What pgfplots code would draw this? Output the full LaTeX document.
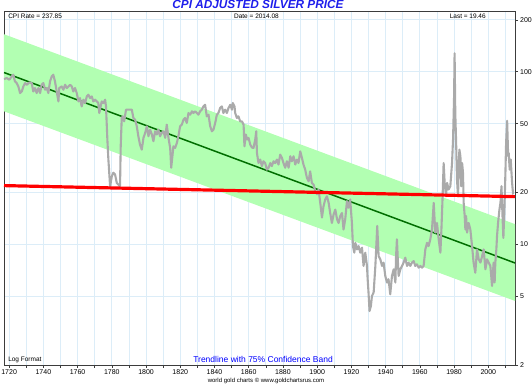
\documentclass[border=0pt]{standalone}
\usepackage{pgfplots}
\pgfplotsset{compat=1.18}
\usepackage{fontspec}
\setmainfont{Liberation Sans}
\definecolor{titleblue}{RGB}{30,30,235}
\definecolor{bandgreen}{RGB}{178,255,178}
\definecolor{trendgreen}{RGB}{0,110,0}
\definecolor{silvergrey}{RGB}{170,170,170}
\definecolor{gridblue}{RGB}{220,237,248}
\definecolor{frame}{RGB}{60,60,60}
\begin{document}
\begin{tikzpicture}
\begin{axis}[
  scale only axis, width=511pt, height=354pt,
  xmin=1717, xmax=2015.6, ymode=log, ymin=2, ymax=225,
  axis line style={frame, line width=0.8pt},
  xtick={1720,1740,...,2000}, minor xtick={1730,1750,...,2010},
  ytick={2,5,10,20,50,100,200}, yticklabels={2,5,10,20,50,100,200},
  minor ytick={},
  xtick pos=bottom, ytick pos=right, yticklabel pos=right,
  tick align=outside, major tick length=3pt, minor tick length=3pt,
  tick style={frame, line width=0.6pt},
  grid=both, major grid style={gridblue, line width=0.8pt}, minor grid style={gridblue, line width=0.8pt},
  ticklabel style={font=\fontsize{7}{8}\selectfont, inner sep=1pt},
  xticklabel style={yshift=-0.5pt},
  yticklabel style={xshift=1pt},
  /pgf/number format/assume math mode=true,
  xticklabel={\pgfmathprintnumber[1000 sep=]{\tick}},
  clip=true,
]
% confidence band
\addplot[fill=bandgreen, draw=none] coordinates {(1717,165) (2015.6,13.1) (2015.6,4.7) (1717,59)} -- cycle;
% trendline
\addplot[trendgreen, line width=1.5pt] coordinates {(1717,99) (2015.6,7.8)};
% silver price
\addplot[silvergrey, line width=2.1pt, line join=round] coordinates {
(1717.0,90.7)(1718.6,92.0)(1720.1,89.9)(1721.5,94.0)(1722.4,96.1)(1723.4,87.9)(1724.4,86.0)(1725.4,82.2)(1726.4,75.3)(1727.4,76.9)(1728.3,82.2)(1729.3,86.0)(1730.3,84.1)(1731.8,86.7)(1733.2,86.0)(1734.1,76.9)(1735.1,80.5)(1736.1,75.3)(1737.1,80.5)(1738.1,75.3)(1739.0,84.1)(1740.0,86.0)(1741.0,78.7)(1742.0,80.5)(1742.9,75.3)(1743.9,87.9)(1744.9,94.0)(1745.8,96.1)(1746.8,87.9)(1747.8,76.9)(1748.8,67.3)(1749.3,80.5)(1750.7,82.2)(1751.7,78.7)(1752.7,84.1)(1753.7,80.5)(1754.6,82.2)(1755.6,84.1)(1756.6,82.2)(1757.5,76.9)(1758.5,80.5)(1759.5,75.3)(1760.5,67.3)(1761.4,70.4)(1762.4,63.0)(1763.4,68.9)(1764.4,65.9)(1765.4,72.0)(1766.3,73.6)(1767.3,70.4)(1768.3,72.0)(1769.2,67.3)(1770.2,68.9)(1771.2,67.3)(1772.1,65.9)(1772.7,57.7)(1774.1,67.3)(1775.1,65.9)(1776.1,68.9)(1776.6,63.0)(1777.4,40.5)(1778.0,31.0)(1779.0,21.7)(1780.0,24.8)(1780.9,26.0)(1781.9,25.4)(1782.9,22.7)(1783.8,22.2)(1784.8,21.7)(1785.2,37.0)(1785.8,54.0)(1786.4,55.2)(1787.2,51.6)(1788.3,60.3)(1789.7,60.3)(1791.7,60.3)(1792.6,54.0)(1793.6,52.8)(1794.6,48.3)(1795.5,42.3)(1796.5,37.8)(1797.5,35.4)(1798.5,41.4)(1799.5,44.3)(1800.5,48.3)(1801.4,42.3)(1802.4,46.2)(1803.4,43.3)(1804.3,39.6)(1805.3,45.2)(1806.3,43.3)(1807.2,46.2)(1808.2,42.3)(1809.2,44.3)(1810.2,45.2)(1811.2,41.4)(1812.1,49.4)(1813.1,41.4)(1814.1,36.2)(1814.7,27.8)(1815.4,32.4)(1816.0,37.0)(1817.0,36.2)(1818.0,38.7)(1818.9,42.3)(1819.9,48.3)(1820.9,49.4)(1821.9,52.8)(1822.8,54.0)(1823.8,50.5)(1824.8,57.7)(1825.8,56.4)(1826.8,59.0)(1827.7,57.7)(1828.7,59.0)(1829.7,57.7)(1830.6,56.4)(1831.6,59.0)(1832.6,60.3)(1833.5,63.0)(1834.5,64.4)(1835.5,55.2)(1836.5,56.4)(1837.5,48.3)(1838.5,45.2)(1839.4,46.2)(1840.4,50.5)(1841.4,56.4)(1842.3,57.7)(1843.3,61.7)(1844.3,63.0)(1845.2,57.7)(1846.2,60.3)(1847.2,57.7)(1848.2,61.7)(1849.2,64.4)(1850.2,60.3)(1850.7,65.9)(1851.7,63.0)(1852.1,57.7)(1853.1,54.0)(1854.0,55.2)(1855.0,51.6)(1856.0,51.6)(1857.0,49.4)(1857.5,37.0)(1858.3,43.3)(1859.1,40.5)(1859.9,41.4)(1860.9,37.8)(1861.9,36.4)(1862.8,36.2)(1863.8,40.5)(1864.4,45.2)(1864.8,33.9)(1865.7,29.6)(1866.7,31.0)(1867.7,28.4)(1868.6,30.3)(1869.6,29.6)(1870.6,27.1)(1871.6,27.8)(1872.6,29.6)(1873.5,28.4)(1874.5,30.3)(1875.5,29.6)(1876.5,31.0)(1877.4,29.0)(1878.4,33.1)(1879.4,31.7)(1880.3,29.6)(1881.3,27.8)(1882.3,30.3)(1883.3,27.8)(1884.3,32.4)(1885.2,30.3)(1886.2,32.4)(1887.2,29.0)(1888.2,31.0)(1889.1,29.6)(1890.1,34.6)(1891.1,31.7)(1892.0,29.0)(1893.0,27.1)(1894.0,24.3)(1895.0,23.2)(1895.9,26.5)(1896.9,22.7)(1897.9,22.2)(1898.9,20.3)(1899.9,19.5)(1900.8,20.8)(1901.8,17.4)(1902.8,14.3)(1903.7,16.6)(1904.7,18.2)(1905.7,19.0)(1906.7,17.4)(1907.6,15.2)(1908.6,13.3)(1909.6,14.9)(1910.6,15.9)(1911.6,14.0)(1912.5,13.3)(1913.5,14.6)(1914.5,15.2)(1915.4,12.2)(1916.4,14.0)(1917.4,17.8)(1918.4,16.3)(1919.3,18.2)(1920.3,13.3)(1920.9,9.77)(1921.7,8.95)(1922.3,10.2)(1923.3,9.35)(1924.2,9.77)(1925.2,8.95)(1926.2,9.57)(1927.1,7.50)(1928.1,8.95)(1929.1,7.50)(1929.5,6.28)(1930.0,5.26)(1930.6,4.11)(1931.4,4.40)(1932.0,5.02)(1933.0,5.26)(1934.0,7.50)(1935.1,12.8)(1935.9,8.55)(1936.9,8.19)(1937.9,7.50)(1938.8,7.84)(1939.8,6.56)(1940.8,6.01)(1941.7,6.28)(1942.7,5.14)(1943.7,6.56)(1944.7,7.17)(1945.7,6.01)(1946.1,8.55)(1946.6,10.7)(1947.2,7.84)(1947.6,6.56)(1948.6,7.17)(1949.6,7.50)(1950.5,7.84)(1951.5,8.37)(1952.5,7.50)(1953.4,7.84)(1954.4,7.50)(1955.4,7.84)(1956.4,8.00)(1957.3,7.50)(1958.3,7.66)(1959.3,7.33)(1960.3,7.50)(1961.3,7.33)(1962.2,7.50)(1963.2,9.35)(1964.2,10.2)(1965.1,9.77)(1966.1,10.7)(1967.1,12.2)(1968.1,17.4)(1969.0,11.7)(1970.0,13.3)(1971.0,10.7)(1972.0,8.95)(1972.6,12.2)(1973.3,19.0)(1973.9,29.6)(1974.5,22.7)(1975.3,19.0)(1975.9,22.7)(1976.8,20.8)(1977.8,21.7)(1978.8,29.6)(1979.4,40.5)(1980.0,72.0)(1980.3,128)(1980.7,57.7)(1981.2,38.7)(1981.7,23.8)(1982.3,19.0)(1982.7,27.1)(1983.1,35.4)(1983.7,32.4)(1984.2,21.7)(1984.7,29.6)(1985.2,26.0)(1985.6,17.4)(1986.2,14.6)(1986.6,12.2)(1987.0,14.6)(1987.6,11.7)(1988.5,13.3)(1989.5,12.2)(1990.5,9.77)(1991.4,7.84)(1992.4,6.85)(1993.4,9.35)(1994.4,8.19)(1995.4,7.84)(1996.4,8.55)(1997.3,9.35)(1998.3,7.17)(1999.3,8.19)(2000.2,7.84)(2001.2,7.50)(2002.2,5.74)(2003.1,7.84)(2003.7,6.01)(2004.1,7.84)(2004.7,9.35)(2005.1,11.2)(2005.7,13.3)(2006.5,15.9)(2007.1,17.4)(2007.7,21.7)(2008.3,14.6)(2008.8,10.9)(2009.4,15.9)(2010.0,26.0)(2010.4,38.7)(2011.0,52.0)(2011.6,32.4)(2011.9,33.9)(2012.5,27.1)(2013.1,31.0)(2013.9,22.7)(2014.5,19.46)
};
% flat trend (red)
\addplot[red, line width=3.2pt] coordinates {(1717,21.9) (2015.6,18.9)};
% annotations
\node[anchor=north west, font=\fontsize{6.5}{7}\selectfont, inner sep=1pt] at (rel axis cs:0.006,0.995) {CPI Rate = 237.85};
\node[anchor=north, font=\fontsize{6.5}{7}\selectfont, inner sep=1pt] at (rel axis cs:0.494,0.995) {Date = 2014.08};
\node[anchor=north west, font=\fontsize{6.5}{7}\selectfont, inner sep=1pt] at (rel axis cs:0.870,0.995) {Last = 19.46};
\node[anchor=south west, font=\fontsize{6.5}{7}\selectfont, inner sep=1pt] at (rel axis cs:0.006,0.004) {Log Format};
\node[anchor=south, font=\fontsize{8.5}{9}\selectfont, text=blue, inner sep=1pt] at (rel axis cs:0.507,0.003) {Trendline with 75\% Confidence Band};
\end{axis}
\node[font=\bfseries\itshape\fontsize{11.8}{12}\selectfont, text=titleblue, anchor=south] at (254pt,353pt) {CPI ADJUSTED SILVER PRICE};
\node[font=\fontsize{6}{7}\selectfont, anchor=south] at (262pt,-22pt) {world gold charts \textcopyright\ www.goldchartsrus.com};
\pgfresetboundingbox
\useasboundingbox (-4pt,-22pt) rectangle (528pt,365pt);
\end{tikzpicture}
\end{document}
